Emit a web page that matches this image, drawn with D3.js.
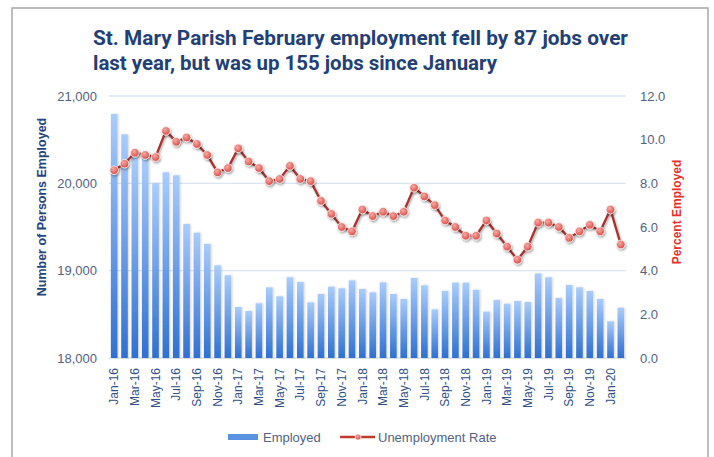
<!DOCTYPE html>
<html>
<head>
<meta charset="utf-8">
<script src="https://cdn.jsdelivr.net/npm/d3@7"></script>
<style>
  body { margin: 0; background: #fff; }
  svg { display: block; }
</style>
</head>
<body>
<svg id="chart"></svg>
<script>
// months Jan-16 .. Feb-20
const months = [
  "Jan-16","Feb-16","Mar-16","Apr-16","May-16","Jun-16","Jul-16","Aug-16","Sep-16","Oct-16","Nov-16","Dec-16",
  "Jan-17","Feb-17","Mar-17","Apr-17","May-17","Jun-17","Jul-17","Aug-17","Sep-17","Oct-17","Nov-17","Dec-17",
  "Jan-18","Feb-18","Mar-18","Apr-18","May-18","Jun-18","Jul-18","Aug-18","Sep-18","Oct-18","Nov-18","Dec-18",
  "Jan-19","Feb-19","Mar-19","Apr-19","May-19","Jun-19","Jul-19","Aug-19","Sep-19","Oct-19","Nov-19","Dec-19",
  "Jan-20","Feb-20"
];

const employed = [
  20794, 20561, 20310, 20290, 20002, 20126, 20092, 19534, 19435, 19305, 19061, 18947,
  18584, 18538, 18626, 18809, 18706, 18924, 18870, 18637, 18733, 18817, 18798, 18889,
  18790, 18752, 18866, 18733, 18676, 18916, 18832, 18557, 18767, 18863, 18863, 18782,
  18531, 18663, 18622, 18653, 18641, 18969, 18924, 18687, 18836, 18809, 18767, 18676,
  18421, 18576
];

const unemploymentRate = [
  8.6, 8.9, 9.4, 9.3, 9.2, 10.4, 9.9, 10.1, 9.8, 9.3, 8.5, 8.7,
  9.6, 9.0, 8.7, 8.1, 8.2, 8.8, 8.2, 8.1, 7.2, 6.6, 6.0, 5.8,
  6.8, 6.5, 6.7, 6.5, 6.7, 7.8, 7.4, 7.0, 6.3, 6.0, 5.6, 5.6,
  6.3, 5.7, 5.1, 4.5, 5.1, 6.2, 6.2, 6.0, 5.5, 5.8, 6.1, 5.8,
  6.8, 5.2
];

const leftTicks = [18000, 19000, 20000, 21000];
const rightTicks = [0, 2, 4, 6, 8, 10, 12];
const titleLines = [
  "St. Mary Parish February employment fell by 87 jobs over",
  "last year, but was up 155 jobs since January"
];

const width = 714, height = 457;
const plot = { left: 109, right: 626, top: 96, bottom: 358 };

const svg = d3.select("#chart")
  .attr("width", width)
  .attr("height", height)
  .style("font-family", "'Liberation Sans', Arial, sans-serif");

const defs = svg.append("defs");

const barGrad = defs.append("linearGradient")
  .attr("id", "barGrad")
  .attr("x1", 0).attr("y1", 0).attr("x2", 0).attr("y2", 1);
barGrad.append("stop").attr("offset", "0%").attr("stop-color", "#a9ccfb");
barGrad.append("stop").attr("offset", "100%").attr("stop-color", "#3070d0");

const dotGrad = defs.append("radialGradient")
  .attr("id", "dotGrad")
  .attr("cx", "40%").attr("cy", "35%").attr("r", "65%");
dotGrad.append("stop").attr("offset", "0%").attr("stop-color", "#f8aaa4");
dotGrad.append("stop").attr("offset", "100%").attr("stop-color", "#dc4a44");

const shadow = defs.append("filter").attr("id", "shadow")
  .attr("x", "-50%").attr("y", "-50%").attr("width", "200%").attr("height", "200%");
shadow.append("feDropShadow")
  .attr("dx", 1).attr("dy", 1.5).attr("stdDeviation", 1.2)
  .attr("flood-color", "#000").attr("flood-opacity", 0.35);

const barShadow = defs.append("filter").attr("id", "barShadow")
  .attr("x", "-50%").attr("y", "-10%").attr("width", "200%").attr("height", "120%");
barShadow.append("feDropShadow")
  .attr("dx", 1).attr("dy", 0).attr("stdDeviation", 1)
  .attr("flood-color", "#000").attr("flood-opacity", 0.18);

// frame
svg.append("rect")
  .attr("x", 12).attr("y", 8)
  .attr("width", 696).attr("height", 470)
  .attr("fill", "none")
  .attr("stroke", "#a6a6a6")
  .attr("stroke-width", 1.5);

// title
svg.append("g").selectAll("text")
  .data(titleLines)
  .enter()
  .append("text")
  .attr("x", 93)
  .attr("y", (d, i) => 45 + i * 25)
  .attr("textLength", (d, i) => i === 0 ? 535 : 404)
  .attr("lengthAdjust", "spacingAndGlyphs")
  .attr("fill", "#233f74")
  .style("font-family", "'Liberation Sans Narrow', 'Roboto', sans-serif")
  .style("font-weight", "bold")
  .style("font-size", "20px")
  .text(d => d);

const x = d3.scaleBand()
  .domain(months)
  .range([plot.left, plot.right])
  .paddingInner(0.36)
  .paddingOuter(0.18);

const yLeft = d3.scaleLinear().domain([18000, 21000]).range([plot.bottom, plot.top]);
const yRight = d3.scaleLinear().domain([0, 12]).range([plot.bottom, plot.top]);

// gridlines
svg.append("g").selectAll("line")
  .data(leftTicks)
  .enter()
  .append("line")
  .attr("x1", plot.left).attr("x2", plot.right)
  .attr("y1", d => yLeft(d)).attr("y2", d => yLeft(d))
  .attr("stroke", "#dbe5f2")
  .attr("stroke-width", 1.3);

// bars
svg.append("g").selectAll("rect")
  .data(employed)
  .enter()
  .append("rect")
  .attr("x", (d, i) => x(months[i]))
  .attr("y", d => yLeft(d))
  .attr("width", x.bandwidth())
  .attr("height", d => plot.bottom - yLeft(d))
  .attr("fill", "url(#barGrad)")
  .attr("filter", "url(#barShadow)");

// unemployment line
const line = d3.line()
  .x((d, i) => x(months[i]) + x.bandwidth() / 2)
  .y(d => yRight(d));

svg.append("path")
  .datum(unemploymentRate)
  .attr("d", line)
  .attr("fill", "none")
  .attr("stroke", "#a8302e")
  .attr("stroke-width", 2.3)
  .attr("filter", "url(#shadow)");

svg.append("g").selectAll("circle")
  .data(unemploymentRate)
  .enter()
  .append("circle")
  .attr("cx", (d, i) => x(months[i]) + x.bandwidth() / 2)
  .attr("cy", d => yRight(d))
  .attr("r", 4.3)
  .attr("fill", "url(#dotGrad)")
  .attr("stroke", "#f4eeee")
  .attr("stroke-width", 0.9)
  .attr("filter", "url(#shadow)");

// axes
const leftAxis = svg.append("g")
  .attr("transform", `translate(${plot.left},0)`)
  .call(d3.axisLeft(yLeft).tickValues(leftTicks).tickFormat(d3.format(",")).tickSize(0).tickPadding(12));
leftAxis.select(".domain").remove();
leftAxis.selectAll("text")
  .attr("fill", "#52627f")
  .style("font-size", "13px")
  .style("font-family", "'Liberation Sans', Arial, sans-serif");

const rightAxis = svg.append("g")
  .attr("transform", `translate(${plot.right},0)`)
  .call(d3.axisRight(yRight).tickValues(rightTicks).tickFormat(d3.format(".1f")).tickSize(0).tickPadding(14));
rightAxis.select(".domain").remove();
rightAxis.selectAll("text")
  .attr("fill", "#52627f")
  .style("font-size", "13px")
  .style("font-family", "'Liberation Sans', Arial, sans-serif");

const xAxis = svg.append("g")
  .attr("transform", `translate(0,${plot.bottom})`)
  .call(d3.axisBottom(x).tickValues(months.filter((d, i) => i % 2 === 0)).tickSize(0));
xAxis.select(".domain").remove();
xAxis.selectAll("text")
  .attr("transform", "rotate(-90)")
  .attr("x", -10)
  .attr("y", 0)
  .attr("dy", "0.35em")
  .style("text-anchor", "end")
  .attr("fill", "#2f4f86")
  .style("font-size", "12px")
  .style("font-family", "'Liberation Sans', Arial, sans-serif");

// axis titles
svg.append("text")
  .attr("transform", "translate(46,207) rotate(-90)")
  .attr("text-anchor", "middle")
  .attr("fill", "#27457d")
  .style("font-size", "12.5px")
  .style("font-weight", "bold")
  .text("Number of Persons Employed");

svg.append("text")
  .attr("transform", "translate(681,212) rotate(-90)")
  .attr("text-anchor", "middle")
  .attr("fill", "#e8312c")
  .style("font-size", "12px")
  .style("font-weight", "bold")
  .text("Percent Employed");

// legend
const legend = svg.append("g");
legend.append("rect")
  .attr("x", 228).attr("y", 434)
  .attr("width", 30).attr("height", 6)
  .attr("fill", "#5b92e0");
legend.append("text")
  .attr("x", 263).attr("y", 442)
  .attr("fill", "#52627f")
  .style("font-size", "13px")
  .text("Employed");

legend.append("line")
  .attr("x1", 340).attr("x2", 375)
  .attr("y1", 437).attr("y2", 437)
  .attr("stroke", "#c0392b")
  .attr("stroke-width", 2.5);
legend.append("circle")
  .attr("cx", 358).attr("cy", 437).attr("r", 3)
  .attr("fill", "url(#dotGrad)")
  .attr("stroke", "#f4eeee")
  .attr("stroke-width", 0.8);
legend.append("text")
  .attr("x", 378).attr("y", 442)
  .attr("fill", "#52627f")
  .style("font-size", "13px")
  .text("Unemployment Rate");
</script>
</body>
</html>
